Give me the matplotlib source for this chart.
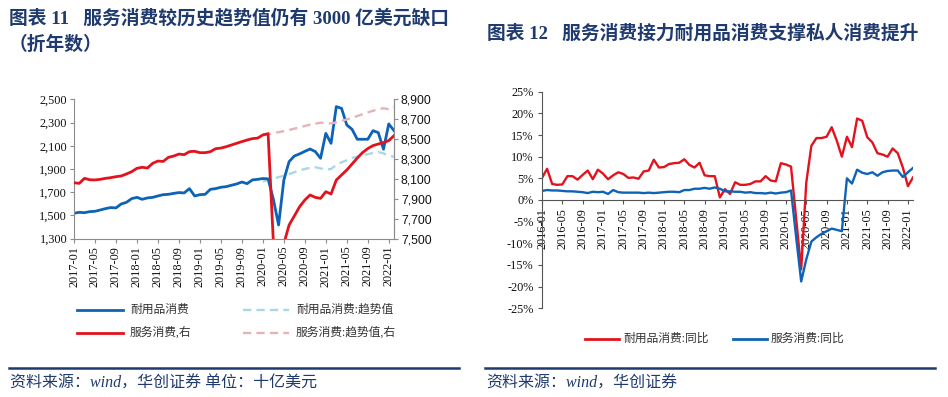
import matplotlib
matplotlib.use("Agg")
import matplotlib.pyplot as plt
import pandas as pd
from matplotlib.lines import Line2D
from matplotlib.ticker import FuncFormatter

# ---- 左图：耐用品 / 服务消费（十亿美元，折年数） ----
months_l = pd.period_range("2017-01", periods=62, freq="M").strftime("%Y-%m").tolist()
durable = [1519, 1527, 1524, 1533, 1536, 1547, 1559, 1568, 1565, 1599, 1613, 1645,
           1656, 1639, 1651, 1656, 1668, 1679, 1682, 1690, 1697, 1694, 1731, 1668,
           1679, 1682, 1725, 1731, 1743, 1748, 1760, 1771, 1788, 1774, 1806, 1811,
           1818, 1815, 1640, 1418, 1805, 1963, 2012, 2030, 2052, 2072, 2050, 1992,
           2207, 2121, 2437, 2422, 2279, 2242, 2156, 2156, 2156, 2230, 2213, 2070,
           2288, 2230]
service = [8062, 8056, 8106, 8092, 8090, 8096, 8106, 8113, 8123, 8130, 8150, 8173,
           8207, 8217, 8210, 8257, 8280, 8276, 8317, 8330, 8350, 8344, 8374, 8378,
           8364, 8364, 8374, 8404, 8410, 8424, 8441, 8458, 8475, 8491, 8505, 8510,
           8542, 8555, 7470, 7080, 7450, 7637, 7728, 7821, 7888, 7939, 7915, 7905,
           7972, 7949, 8089, 8140, 8190, 8250, 8310, 8365, 8405, 8435, 8451, 8465,
           8485, 8535]
trend_start = 36  # 2020-01
durable_trend = [1792, 1805, 1818, 1830, 1842, 1856, 1872, 1888, 1900, 1910, 1915, 1905,
                 1896, 1900, 1935, 1958, 1975, 1995, 2005, 2015, 2028, 2038, 2046, 2035,
                 2014, 2005]
service_trend = [8542, 8550, 8560, 8570, 8580, 8592, 8605, 8618, 8632, 8645, 8655, 8665,
                 8662, 8658, 8668, 8682, 8698, 8715, 8732, 8750, 8768, 8785, 8800, 8810,
                 8800, 8822]

# ---- 右图：同比（%） ----
months_r = pd.period_range("2016-01", periods=74, freq="M").strftime("%Y-%m").tolist()
durable_yoy = [5.1, 7.2, 3.7, 3.5, 3.6, 5.5, 5.5, 4.7, 5.8, 6.8, 4.8, 7.0,
               6.1, 4.8, 5.7, 6.4, 6.0, 5.1, 5.2, 4.9, 6.6, 6.8, 9.3, 7.5,
               7.6, 8.3, 8.5, 8.6, 9.4, 8.1, 7.5, 8.6, 5.7, 5.5, 5.5, 0.6,
               2.5, 1.4, 4.1, 3.5, 3.5, 3.7, 4.3, 4.3, 5.5, 4.5, 4.3, 8.5,
               8.2, 7.7, -4.2, -16.0, 4.0, 12.5, 14.3, 14.3, 14.6, 16.8, 13.7, 10.0,
               14.6, 12.2, 18.8, 18.3, 14.5, 13.3, 10.8, 10.5, 10.0, 11.9, 10.8, 7.5,
               3.2, 5.2]
service_yoy = [2.1, 2.3, 2.2, 2.2, 2.1, 2.0, 2.0, 1.9, 1.8, 1.6, 1.9, 1.8,
               1.9, 1.4, 2.3, 1.8, 1.7, 1.7, 1.7, 1.7, 1.6, 1.7, 1.6, 1.7,
               1.8, 1.9, 1.9, 1.8, 2.3, 2.3, 2.6, 2.6, 2.8, 2.6, 2.9, 2.6,
               2.0, 2.0, 1.9, 1.9, 1.7, 1.8, 1.6, 1.6, 1.5, 1.7, 1.5, 1.7,
               1.8, 2.2, -8.5, -18.8, -13.7, -9.6, -8.6, -7.8, -7.2, -6.6, -6.9, -7.2,
               5.0, 3.8, 7.0, 6.3, 6.0, 6.4, 5.6, 6.4, 6.7, 6.8, 6.8, 5.3,
               6.4, 7.4]

W, H = 948, 397
NAVY = "#1F3A6E"
BLUE = "#0D63B8"
RED = "#E3131D"
LBLUE = "#AAD7E7"
PINK = "#E6B3B6"
MIX = ["Liberation Serif", "Noto Sans CJK SC"]
SERIF = "Liberation Serif"


def box(l, t, r, b):
    return [l / W, 1 - b / H, (r - l) / W, (b - t) / H]


def fp(x, y):
    return x / W, 1 - y / H


fig = plt.figure(figsize=(W / 100, H / 100), dpi=100)

# ================= 左图 =================
ax = fig.add_axes(box(74, 99.3, 394, 238.7))
ax2 = ax.twinx()
xl = list(range(len(months_l)))
xt = list(range(trend_start, trend_start + len(durable_trend)))

ax.plot(xt, durable_trend, color=LBLUE, lw=1.7, dashes=(3.5, 2.2))
ax.plot(xl, durable, color=BLUE, lw=2.0)
ax2.plot(xt, service_trend, color=PINK, lw=1.7, dashes=(3.5, 2.2))
ax2.plot(xl, service, color=RED, lw=2.0)

ax.set_xlim(0, len(months_l) - 1)
ax.set_ylim(1300, 2500)
ax2.set_ylim(7500, 8900)
ax.set_yticks(range(1300, 2501, 200))
ax2.set_yticks(range(7500, 8901, 200))
ax.yaxis.set_major_formatter(FuncFormatter(lambda v, p: f"{v:,.0f}"))
ax2.yaxis.set_major_formatter(FuncFormatter(lambda v, p: f"{v:,.0f}"))
ax.set_xticks(xl[::4])
ax.set_xticklabels(months_l[::4], rotation=90, family=SERIF, fontsize=8.8)
for lab in ax.get_yticklabels():
    lab.set_family(SERIF)
    lab.set_fontsize(8.8)
for lab in ax2.get_yticklabels():
    lab.set_family("Liberation Sans")
    lab.set_fontsize(8.8)
for a in (ax, ax2):
    a.spines["top"].set_visible(False)
    for s in a.spines.values():
        s.set_color("#8C8C8C")
        s.set_linewidth(0.8)
    a.tick_params(colors="#8C8C8C", labelcolor="#111111", length=3, width=0.8, pad=2)
ax2.spines["left"].set_visible(False)
ax2.spines["bottom"].set_visible(False)

# 左图图例
leg_l = [(77, 310, BLUE, None, "耐用品消费"),
         (243, 310, LBLUE, (3.5, 2.2), "耐用品消费:趋势值"),
         (77, 333, RED, None, "服务消费,右"),
         (243, 333, PINK, (3.5, 2.2), "服务消费:趋势值,右")]
for x0, y0, c, d, txt in leg_l:
    (fx0, fy), (fx1, _) = fp(x0, y0), fp(x0 + 46, y0)
    ln = Line2D([fx0, fx1], [fy, fy], color=c, lw=2.0, transform=fig.transFigure)
    if d:
        ln.set_dashes(d)
        ln.set_linewidth(1.7)
    fig.add_artist(ln)
    fig.text(*fp(x0 + 53, y0), txt, family=MIX, fontsize=8.5, color="#333333", va="center")

# ================= 右图 =================
bx = fig.add_axes(box(542, 91.7, 913, 308.3))
xr = list(range(len(months_r)))
bx.plot(xr, durable_yoy, color=RED, lw=1.7)
bx.plot(xr, service_yoy, color=BLUE, lw=1.7)
# 先把横轴放到 0 处，否则会重置刻度标签的设置
bx.spines["top"].set_visible(False)
bx.spines["right"].set_visible(False)
bx.spines["bottom"].set_position(("data", 0))
bx.set_xlim(0, len(months_r) - 1)
bx.set_ylim(-25, 25)
bx.set_yticks(range(-25, 26, 5))
bx.yaxis.set_major_formatter(FuncFormatter(lambda v, p: f"{v:.0f}%"))
bx.set_xticks(xr[::4])
bx.set_xticklabels(months_r[::4], rotation=90, family=SERIF, fontsize=8.8)
for lab in bx.get_yticklabels():
    lab.set_family(SERIF)
    lab.set_fontsize(8.8)
for s in bx.spines.values():
    s.set_color("#555555")
    s.set_linewidth(0.8)
bx.tick_params(colors="#555555", labelcolor="#111111", length=3, width=0.8, pad=3)

leg_r = [(585, 339, RED, "耐用品消费:同比"), (733, 339, BLUE, "服务消费:同比")]
for x0, y0, c, txt in leg_r:
    (fx0, fy), (fx1, _) = fp(x0, y0), fp(x0 + 34, y0)
    fig.add_artist(Line2D([fx0, fx1], [fy, fy], color=c, lw=2.0, transform=fig.transFigure))
    fig.text(*fp(x0 + 38, y0), txt, family=MIX, fontsize=8.5, color="#333333", va="center")

# ================= 标题与来源 =================
fig.text(*fp(9, 18), "图表 11   服务消费较历史趋势值仍有 3000 亿美元缺口",
         family=MIX, fontsize=13.5, weight="bold", color=NAVY, va="center")
fig.text(*fp(9, 45), "（折年数）", family=MIX, fontsize=13.5, weight="bold", color=NAVY, va="center")
fig.text(*fp(487, 33), "图表 12   服务消费接力耐用品消费支撑私人消费提升",
         family=MIX, fontsize=13.5, weight="bold", color=NAVY, va="center")

for x0, x1 in ((9, 459), (485, 935)):
    (fa, fy), (fb, _) = fp(x0, 368.3), fp(x1, 368.3)
    fig.add_artist(Line2D([fa, fb], [fy, fy], color=NAVY, lw=1.8, transform=fig.transFigure))

fig.text(*fp(10, 384), "资料来源：wind，华创证券 单位：十亿美元",
         family=MIX, fontsize=11.5, style="italic", color=NAVY, va="center")
fig.text(*fp(486, 384), "资料来源：wind，华创证券",
         family=MIX, fontsize=11.5, style="italic", color=NAVY, va="center")

fig.savefig("out.png", dpi=100)
